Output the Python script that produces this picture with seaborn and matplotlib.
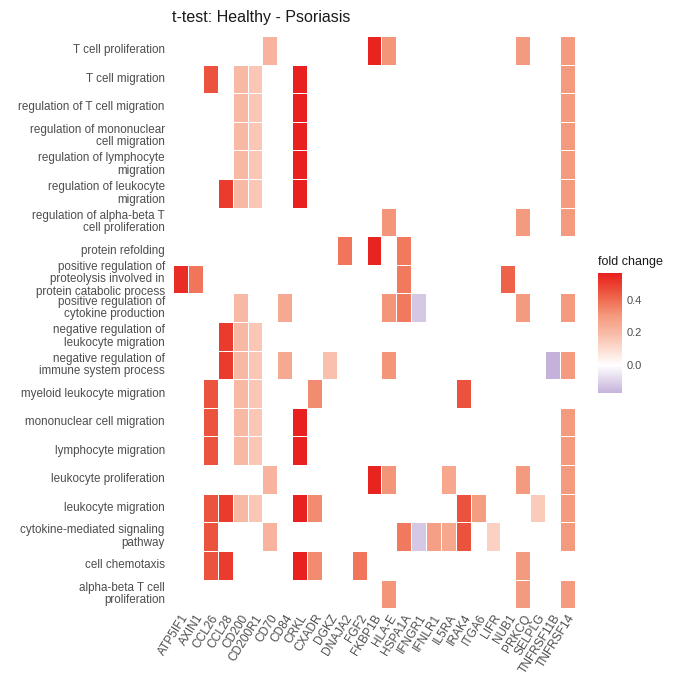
import matplotlib
matplotlib.use("Agg")
import matplotlib.pyplot as plt
import numpy as np
import pandas as pd
import seaborn as sns
from matplotlib.colors import LinearSegmentedColormap

# genes (columns) and their fold change
genes = ["ATP5IF1", "AXIN1", "CCL26", "CCL28", "CD200", "CD200R1", "CD70", "CD84",
         "CRKL", "CXADR", "DGKZ", "DNAJA2", "FGF2", "FKBP1B", "HLA-E", "HSPA1A",
         "IFNGR1", "IFNLR1", "IL5RA", "IRAK4", "ITGA6", "LIFR", "NUB1", "PRKCQ",
         "SELPLG", "TNFRSF11B", "TNFRSF14"]
fold_change = [0.53, 0.38, 0.45, 0.50, 0.20, 0.16, 0.22, 0.25,
               0.56, 0.33, 0.18, 0.38, 0.38, 0.55, 0.31, 0.37,
               -0.12, 0.28, 0.26, 0.45, 0.29, 0.13, 0.42, 0.30,
               0.15, -0.17, 0.30]

# GO terms (rows, top to bottom)
terms = [
    "T cell proliferation",
    "T cell migration",
    "regulation of T cell migration",
    "regulation of mononuclear\ncell migration",
    "regulation of lymphocyte\nmigration",
    "regulation of leukocyte\nmigration",
    "regulation of alpha-beta T\ncell proliferation",
    "protein refolding",
    "positive regulation of\nproteolysis involved in\nprotein catabolic process",
    "positive regulation of\ncytokine production",
    "negative regulation of\nleukocyte migration",
    "negative regulation of\nimmune system process",
    "myeloid leukocyte migration",
    "mononuclear cell migration",
    "lymphocyte migration",
    "leukocyte proliferation",
    "leukocyte migration",
    "cytokine-mediated signaling\npathway",
    "cell chemotaxis",
    "alpha-beta T cell\nproliferation",
]

# genes present in each term
members = [
    ["CD70", "FKBP1B", "HLA-E", "PRKCQ", "TNFRSF14"],
    ["CCL26", "CD200", "CD200R1", "CRKL", "TNFRSF14"],
    ["CD200", "CD200R1", "CRKL", "TNFRSF14"],
    ["CD200", "CD200R1", "CRKL", "TNFRSF14"],
    ["CD200", "CD200R1", "CRKL", "TNFRSF14"],
    ["CCL28", "CD200", "CD200R1", "CRKL", "TNFRSF14"],
    ["HLA-E", "PRKCQ", "TNFRSF14"],
    ["DNAJA2", "FKBP1B", "HSPA1A"],
    ["ATP5IF1", "AXIN1", "HSPA1A", "NUB1"],
    ["CD200", "CD84", "HLA-E", "HSPA1A", "IFNGR1", "PRKCQ", "TNFRSF14"],
    ["CCL28", "CD200", "CD200R1"],
    ["CCL28", "CD200", "CD200R1", "CD84", "DGKZ", "HLA-E", "TNFRSF11B", "TNFRSF14"],
    ["CCL26", "CD200", "CD200R1", "CXADR", "IRAK4"],
    ["CCL26", "CD200", "CD200R1", "CRKL", "TNFRSF14"],
    ["CCL26", "CD200", "CD200R1", "CRKL", "TNFRSF14"],
    ["CD70", "FKBP1B", "HLA-E", "IL5RA", "PRKCQ", "TNFRSF14"],
    ["CCL26", "CCL28", "CD200", "CD200R1", "CRKL", "CXADR", "IRAK4", "ITGA6",
     "SELPLG", "TNFRSF14"],
    ["CCL26", "CD70", "HSPA1A", "IFNGR1", "IFNLR1", "IL5RA", "IRAK4", "LIFR",
     "TNFRSF14"],
    ["CCL26", "CCL28", "CRKL", "CXADR", "FGF2", "PRKCQ"],
    ["HLA-E", "PRKCQ", "TNFRSF14"],
]

fc = dict(zip(genes, fold_change))
mat = pd.DataFrame(np.nan, index=terms, columns=genes)
for term, gs in zip(terms, members):
    for g in gs:
        mat.loc[term, g] = fc[g]

vmin, vmax = min(fold_change), max(fold_change)
stops = [(-0.17, "#c4b2db"), (0.0, "#ffffff"), (0.1, "#fcdcd0"), (0.2, "#f8b9a4"),
         (0.3, "#f49a7e"), (0.4, "#ef6c51"), (0.5, "#ea3b2e"), (0.56, "#e8201f")]
cmap = LinearSegmentedColormap.from_list(
    "fc", [((v - vmin) / (vmax - vmin), c) for v, c in stops])

sns.set_theme(style="white")
plt.rcParams["font.family"] = ["Liberation Sans", "DejaVu Sans"]

fig = plt.figure(figsize=(6.9, 6.78), dpi=100)
ax = fig.add_axes([0.251, 0.103, 0.582, 0.844])
cax = fig.add_axes([0.867, 0.42, 0.034, 0.177])

sns.heatmap(mat, ax=ax, cbar_ax=cax, cmap=cmap, vmin=vmin, vmax=vmax,
            linewidths=0.6, linecolor="white",
            xticklabels=True, yticklabels=True)

ax.set_title("t-test: Healthy - Psoriasis", loc="left", fontsize=11.5,
             color="#1a1a1a", pad=10, x=-0.003)
ax.set_xlabel("")
ax.set_ylabel("")
ax.tick_params(length=0, labelsize=8.4, labelcolor="#4d4d4d")
ax.tick_params(axis="y", pad=6)
ax.tick_params(axis="x", pad=3, labelsize=8.6)
plt.setp(ax.get_yticklabels(), rotation=0, ha="right", linespacing=1.05)
plt.setp(ax.get_xticklabels(), rotation=58, ha="right", rotation_mode="anchor")

cax.set_title("fold change", loc="left", fontsize=9, color="#1a1a1a", pad=6)
cax.set_yticks([0.0, 0.2, 0.4])
cax.set_yticklabels(["0.0", "0.2", "0.4"])
cax.tick_params(labelsize=8, labelcolor="#4d4d4d", color="white",
                direction="in", length=4, width=0.8)
for s in cax.spines.values():
    s.set_visible(False)

fig.savefig("out.png", dpi=100)
